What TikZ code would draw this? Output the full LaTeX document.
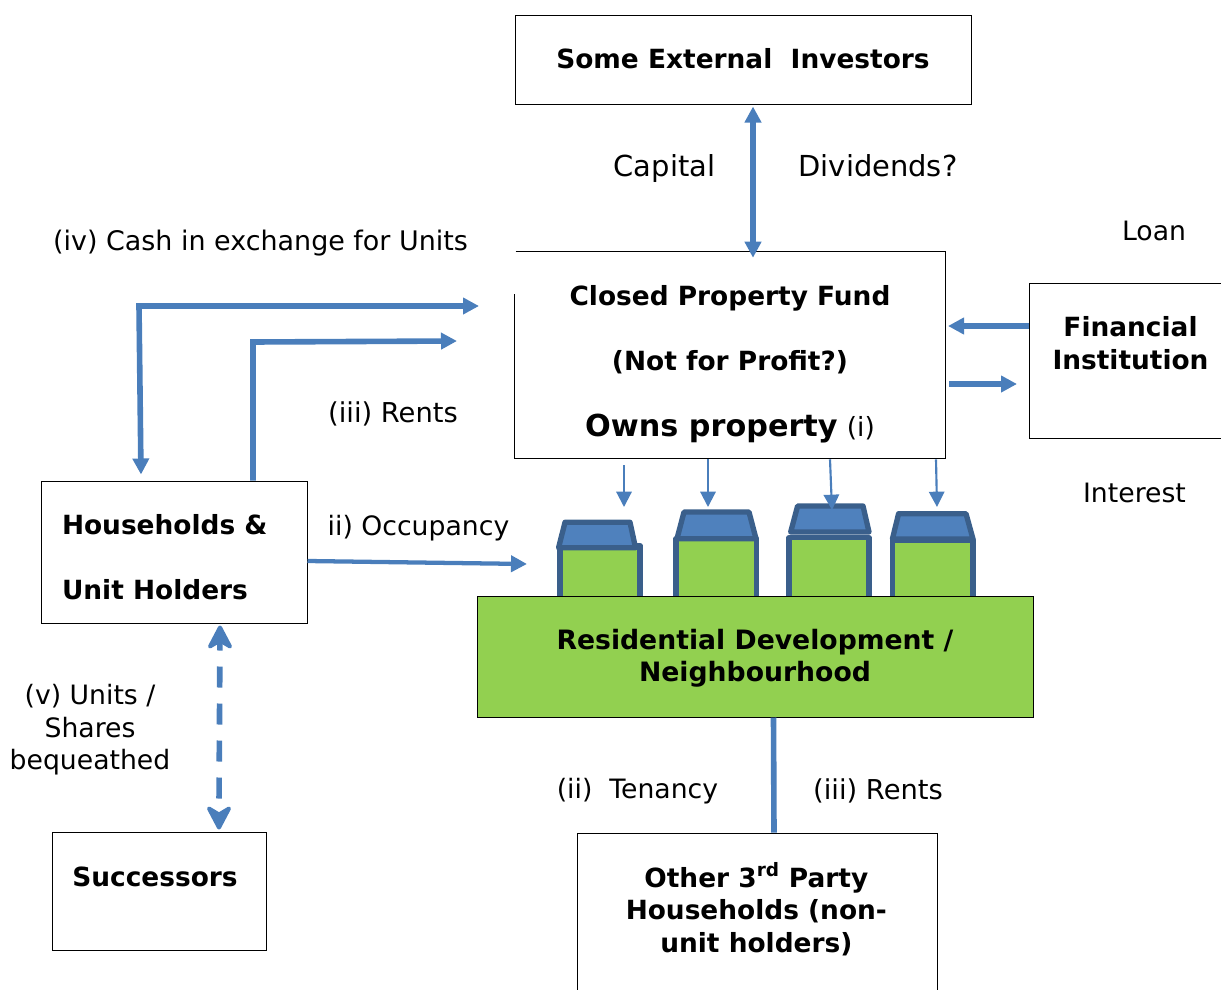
\documentclass[tikz,border=0pt]{standalone}
\usepackage{fontspec}
\setmainfont{DejaVu Sans}
\usetikzlibrary{arrows.meta,calc}
\definecolor{flow}{HTML}{4A7EBB}
\definecolor{roofline}{HTML}{3A5F8B}
\definecolor{roofblue}{HTML}{4F81BD}
\definecolor{devgreen}{HTML}{92D050}
\newcommand{\boldsz}{\fontsize{19.8}{24.4}\selectfont\bfseries}
\newcommand{\shifted}[2]{\raisebox{#1}[0pt][0pt]{#2}}
\tikzset{
  boxnode/.style={draw=black,line width=0.75pt,fill=white,inner sep=0pt,align=center,font=\boldsz},
  lab/.style={font=\fontsize{20}{24.4}\selectfont,inner sep=0pt,align=center},
  widelab/.style={font=\fontsize{20.5}{24.4}\selectfont,inner sep=0pt,align=center},
  cashlab/.style={font=\fontsize{20.2}{24.4}\selectfont,inner sep=0pt,align=center},
  biglab/.style={font=\fontsize{21.7}{26}\selectfont,inner sep=0pt},
  flowline/.style={draw=flow,line width=4.2pt},
  thinflow/.style={draw=flow,line width=1.6pt,-{Triangle[width=11.5pt,length=11.5pt]}},
  tipped/.style={-{Triangle[width=12pt,length=12pt]}},
  twotipped/.style={{Triangle[width=12pt,length=12pt]}-{Triangle[width=12pt,length=12pt]}},
  housebody/.style={draw=roofline,fill=devgreen,line width=4pt,line join=round},
  houseroof/.style={draw=roofline,fill=roofblue,line width=4pt,line join=round},
  openhead/.style={draw=flow,fill=flow,line width=3pt,line join=round},
}
\begin{document}
\begin{tikzpicture}[x=0.75pt,y=-0.75pt]
\useasboundingbox (0,0) rectangle (1221,989);
% houses
\draw[housebody] (560,600) |- (640,545.7) -- (640,600);
\draw[houseroof] (558.6,547.7) -- (565,522.3) -- (630,522.3) -- (635.5,547.7) -- cycle;
\draw[housebody] (676,600) |- (756.5,538.7) -- (756.5,600);
\draw[houseroof] (677,538.7) -- (684,512) -- (749,512) -- (756,538.7) -- cycle;
\draw[housebody] (789,600) |- (869,537.7) -- (869,600);
\draw[houseroof] (790.7,532) -- (797.6,506) -- (863,506) -- (869,532) -- cycle;
\draw[housebody] (892.4,600) |- (973,540) -- (973,600);
\draw[houseroof] (892.4,539) -- (898.6,513.7) -- (966,513.7) -- (973,539) -- cycle;
% boxes
\node[boxnode,minimum width=342pt,minimum height=66.75pt] (invest) at (743,59.5) {\shifted{-6.5pt}{Some External\ \ Investors}};
\node[inner sep=0pt,align=center,font=\fontsize{19.8}{49}\selectfont\bfseries,minimum width=322.5pt,minimum height=141pt] (fund) at (730,364)
  {Closed Property Fund\\(Not for Profit?)\\{\fontsize{22.7}{49}\selectfont Owns property} {\mdseries (i)}};
\draw[black,line width=0.75pt] ($(fund.north west)+(1,-18)$) -- ($(fund.north east)+(0,-18)$) -- (fund.south east) -- (fund.south west) -- ($(fund.north west)+(0,24)$);
\node[boxnode,minimum width=151.5pt,minimum height=116.25pt] (fin) at (1130.5,360.5) {\shifted{7.75pt}{\parbox{150pt}{\centering\boldsz Financial\\Institution}}};
\node[boxnode,minimum width=199.5pt,minimum height=106.5pt] (hh) at (174,552)
  {\shifted{-9.1pt}{\parbox{168pt}{\fontsize{19.8}{49}\selectfont\bfseries Households \&\\Unit Holders}}};
\node[boxnode,fill=devgreen,minimum width=417pt,minimum height=90.75pt] (dev) at (755,656.5) {\shifted{-6.4pt}{\parbox{400pt}{\centering\fontsize{20}{24.4}\selectfont\bfseries Residential Development /\\Neighbourhood}}};
\node[boxnode,minimum width=160.5pt,minimum height=88.5pt] (succ) at (159,891) {\shifted{3.3pt}{Successors}\hspace*{6pt}};
\node[boxnode,minimum width=270pt,minimum height=125pt] (other) at (757,916.5) {\shifted{0.25pt}{\parbox{240pt}{\centering\boldsz Other 3\textsuperscript{rd} Party\\Households (non-\\unit holders)}}\hspace*{1pt}};
% free ends
\coordinate (cashend) at (479,306);
\coordinate (rentend) at (457,341);
\coordinate (occend) at (527,564);
% connectors
\draw[flowline,twotipped] ($(invest.south)+(10,2)$) -- ($(fund.north)+(23,-12)$);
\draw[flowline,twotipped] ($(hh.north)+(-33,-6)$) -- (139,306) -- (cashend);
\draw[flowline,tipped] ($(hh.north)+(79,0)$) -- (253,342) -- (rentend);
\draw[flowline,tipped] ($(fin.west)+(0,-34.5)$) -- (948,326);
\draw[flowline,tipped] (949,384) -- ($(fin.west)+(-12,23.5)$);
\draw[thinflow] ($(fund.south)+(-106,7)$) -- (624,507);
\draw[thinflow] ($(fund.south)+(-22,1)$) -- (708,507);
\draw[thinflow] ($(fund.south)+(100,1)$) -- (832,510);
\draw[thinflow] ($(fund.south)+(206,1)$) -- (937,507);
\draw[draw=flow,line width=3.2pt,tipped] ($(hh.east)+(0,9)$) -- (occend);
\draw[flowline] ($(dev.south)+(18.5,0)$) -- ($(other.north)+(17,0)$);
\draw[draw=flow,line width=4.2pt,dash pattern=on 15.75pt off 12pt]
  ($(hh.south)+(46,6)$) -- ($(succ.north)+(60,-27)$);
\draw[openhead] ($(hh.south)+(46,4)$) -- ++(-10,19) -- ++(10,-6) -- ++(10,6) -- cycle;
\draw[openhead] ($(succ.north)+(60,-4)$) -- ++(-10,-19) -- ++(10,6) -- ++(10,-6) -- cycle;
% labels
\node[biglab] (l1) at (664.5,169) {Capital};
\node[biglab] (l2) at (878,166) {Dividends?};
\node[lab] (l3) at (1154,231) {Loan};
\node[cashlab] (l4) at (260.5,243) {(iv) Cash in exchange for Units};
\node[widelab] (l5) at (393,414) {(iii) Rents};
\node[lab] (l6) at (418.5,528) {ii) Occupancy};
\node[lab] (l7) at (1134.5,493) {Interest};
\node[lab] (l8) at (90,730) {(v) Units /\\Shares\\bequeathed};
\node[lab] (l9) at (637.5,791) {(ii)\ \ Tenancy};
\node[widelab] (l10) at (878,791) {(iii) Rents};
\end{tikzpicture}
\end{document}
